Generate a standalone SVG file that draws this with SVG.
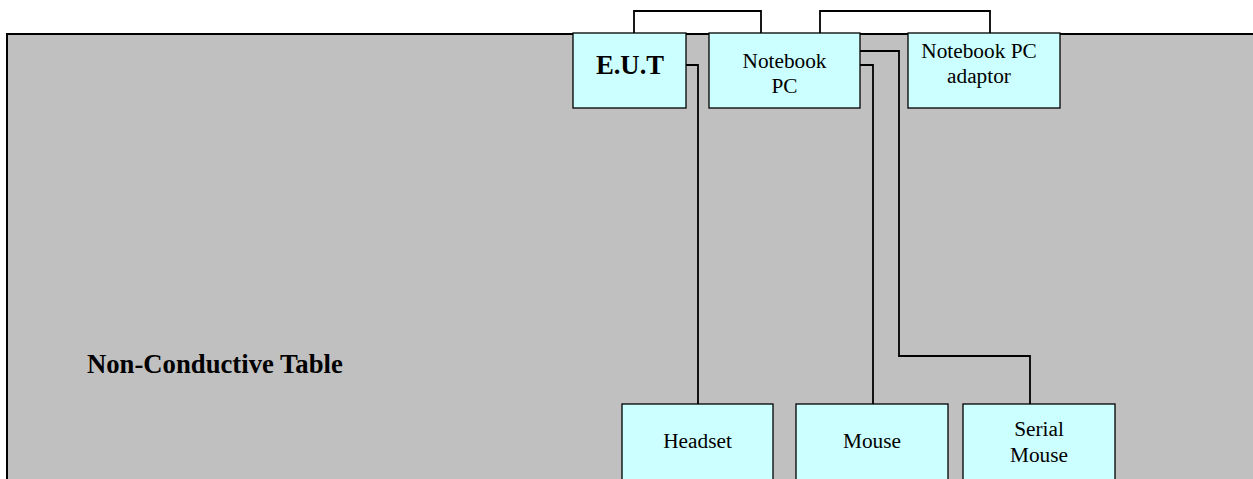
<svg xmlns="http://www.w3.org/2000/svg" width="1253" height="479" viewBox="0 0 1253 479">
<style>
.table{fill:#c0c0c0;stroke:#000;stroke-width:2}
.box{fill:#ccffff;stroke:#000;stroke-width:1.3}
.wire{fill:none;stroke:#000;stroke-width:1.8}
text{font-family:"Liberation Serif","Times New Roman",serif;fill:#000;text-anchor:middle}
.lbl{font-size:21.3px}
.bold{font-size:26.7px;font-weight:bold}
</style>
<rect width="1253" height="479" fill="#fff"/>
<g id="table">
<rect class="table" x="7" y="34" width="1260" height="460"/>
<text class="bold" x="87" y="373" style="text-anchor:start">Non-Conductive Table</text>
</g>
<g id="connectors">
<path class="wire" d="M634,33 V11 H761 V33"/>
<path class="wire" d="M820,33 V11 H990 V33"/>
<path class="wire" d="M686,65 H698 V404"/>
<path class="wire" d="M860,65 H873 V404"/>
<path class="wire" d="M860,51 H899 V356 H1030 V404"/>
</g>
<g id="eut">
<rect class="box" x="573" y="33" width="113" height="75"/>
<text class="bold" x="630" y="74">E.U.T</text>
</g>
<g id="notebook">
<rect class="box" x="709" y="33" width="151" height="75"/>
<text class="lbl" x="784.5" y="68">Notebook</text>
<text class="lbl" x="784.5" y="93">PC</text>
</g>
<g id="adaptor">
<rect class="box" x="908" y="33" width="152" height="75"/>
<text class="lbl" x="979" y="58">Notebook PC</text>
<text class="lbl" x="979" y="83">adaptor</text>
</g>
<g id="headset">
<rect class="box" x="622" y="404" width="151" height="90"/>
<text class="lbl" x="697.5" y="448">Headset</text>
</g>
<g id="mouse">
<rect class="box" x="796" y="404" width="152" height="90"/>
<text class="lbl" x="872" y="448">Mouse</text>
</g>
<g id="serial-mouse">
<rect class="box" x="963" y="404" width="152" height="90"/>
<text class="lbl" x="1039" y="436">Serial</text>
<text class="lbl" x="1039" y="462">Mouse</text>
</g>
</svg>
